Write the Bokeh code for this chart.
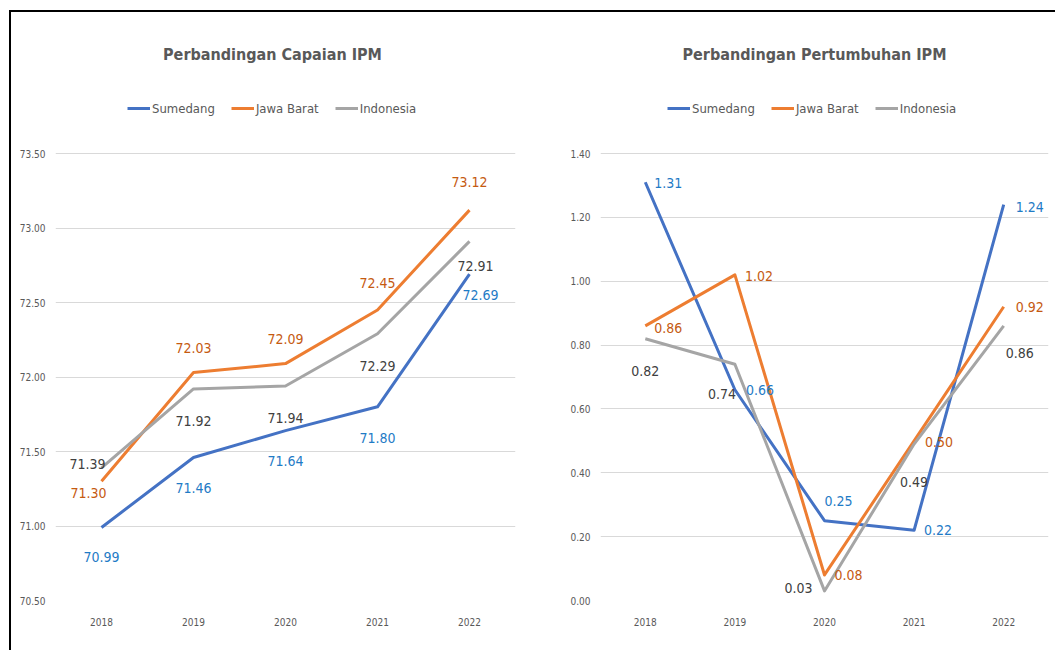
from bokeh.plotting import figure
from bokeh.models import (ColumnDataSource, Range1d, FactorRange, FixedTicker,
                          NumeralTickFormatter, Legend, LegendItem, Label)
from bokeh.layouts import row
from bokeh.core.properties import value
from bokeh.embed import file_html
from bokeh.resources import INLINE

# ---------------- data ----------------
years = ["2018", "2019", "2020", "2021", "2022"]
series_names = ["Sumedang", "Jawa Barat", "Indonesia"]

capaian_sumedang = [70.99, 71.46, 71.64, 71.80, 72.69]
capaian_jabar = [71.30, 72.03, 72.09, 72.45, 73.12]
capaian_indonesia = [71.39, 71.92, 71.94, 72.29, 72.91]

pertumbuhan_sumedang = [1.31, 0.66, 0.25, 0.22, 1.24]
pertumbuhan_jabar = [0.86, 1.02, 0.08, 0.50, 0.92]
pertumbuhan_indonesia = [0.82, 0.74, 0.03, 0.49, 0.86]

capaian_ticks = [70.5, 71.0, 71.5, 72.0, 72.5, 73.0, 73.5]
pertumbuhan_ticks = [0.0, 0.2, 0.4, 0.6, 0.8, 1.0, 1.2, 1.4]

title_capaian = "Perbandingan Capaian IPM"
title_pertumbuhan = "Perbandingan Pertumbuhan IPM"

# ---------------- styles ----------------
FONT = "DejaVu Sans Condensed"
LINE_COLORS = ["#4472C4", "#ED7D31", "#A5A5A5"]
LABEL_COLORS = ["#1F7BC6", "#C55A11", "#404040"]
TEXT_GRAY = "#595959"
GRID = "#D9D9D9"

# data-label pixel offsets (per series, per point)
cap_dx = [[0, 0, 0, 0, 11], [-13, 0, 0, 0, 0], [-14, 0, 0, 0, 6]]
cap_dy = [[30, 31, 30, 31, 21], [12, -25, -25, -27, -28], [-4, 32, 32, 32, 25]]
gr_dx = [[23, 25, 14, 24, 26], [23, 24, 24, 25, 26], [0, -13, -26, 0, 16]]
gr_dy = [[1, 0, -20, 0, 2], [2, 1, 0, 1, 0], [32, 30, -3, 38, 27]]

FRAME_TOP_BORDER = 8
FRAME_PIX = 580          # frame height in px
TICK_SPAN_PIX = 447      # pixels between first and last tick
FIG_H = 638


def make_chart(title, series, ticks, width, mb_left, mb_right, dxs, dys,
               title_x, legend_x):
    ppu = TICK_SPAN_PIX / (ticks[-1] - ticks[0])
    y_end = ticks[0] + FRAME_PIX / ppu
    p = figure(width=width, height=FIG_H, x_range=FactorRange(*years),
               y_range=Range1d(ticks[0], y_end),
               output_backend="svg", toolbar_location=None,
               min_border_left=mb_left, min_border_right=mb_right,
               min_border_top=FRAME_TOP_BORDER,
               min_border_bottom=FIG_H - FRAME_TOP_BORDER - FRAME_PIX)
    p.outline_line_color = None
    p.background_fill_color = "white"
    p.border_fill_color = "white"
    p.xgrid.grid_line_color = None
    p.ygrid.grid_line_color = GRID
    p.ygrid.grid_line_width = 1
    p.yaxis.ticker = FixedTicker(ticks=ticks)
    p.yaxis.formatter = NumeralTickFormatter(format="0.00")
    for ax in (p.xaxis, p.yaxis):
        ax.axis_line_color = None
        ax.major_tick_line_color = None
        ax.minor_tick_line_color = None
        ax.major_tick_out = 0
        ax.major_tick_in = 0
        ax.major_label_text_font = FONT
        ax.major_label_text_font_size = "10px"
        ax.major_label_text_color = TEXT_GRAY
    p.yaxis.major_label_standoff = 10
    p.xaxis.major_label_standoff = 17

    items = []
    for i, (name, vals) in enumerate(zip(series_names, series)):
        src = ColumnDataSource(dict(x=years, y=vals))
        r = p.line("x", "y", source=src, line_color=LINE_COLORS[i],
                   line_width=3, line_join="round")
        items.append(LegendItem(label=name, renderers=[r]))
    for i, vals in enumerate(series):
        src = ColumnDataSource(dict(
            x=years, y=vals, lab=["%.2f" % v for v in vals],
            dx=dxs[i], dy=dys[i]))
        p.text("x", "y", text="lab", source=src, x_offset="dx", y_offset="dy",
               text_align="center", text_baseline="middle",
               text_font=value(FONT), text_font_size="14px",
               text_color=LABEL_COLORS[i])

    p.add_layout(Label(x=title_x, y=546, x_units="screen", y_units="screen",
                       text=title, text_align="center", text_baseline="middle",
                       text_font=FONT, text_font_size="16px",
                       text_font_style="bold", text_color=TEXT_GRAY))

    leg = Legend(items=items, orientation="horizontal", location=(legend_x, 484),
                 glyph_width=23, glyph_height=16, label_height=16,
                 label_standoff=2, spacing=16, padding=0, margin=0,
                 label_text_font=FONT, label_text_font_size="13px",
                 label_text_color=TEXT_GRAY,
                 border_line_color=None, background_fill_alpha=0)
    p.add_layout(leg)
    return p


p1 = make_chart(title_capaian,
                [capaian_sumedang, capaian_jabar, capaian_indonesia],
                capaian_ticks, 519, 44, 15, cap_dx, cap_dy, 217, 72)
p2 = make_chart(title_pertumbuhan,
                [pertumbuhan_sumedang, pertumbuhan_jabar, pertumbuhan_indonesia],
                pertumbuhan_ticks, 525, 70, 7, gr_dx, gr_dy, 214, 67)

layout = row(p1, p2, styles={"border-top": "2px solid black",
                             "border-left": "2px solid black",
                             "margin-left": "9px", "margin-top": "10px"})

open("out.html", "w").write(file_html(layout, INLINE))
